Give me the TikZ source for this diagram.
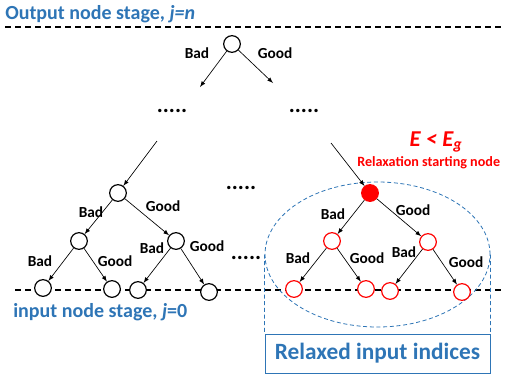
\documentclass[tikz,border=0pt]{standalone}
\usepackage{fontspec}
\setmainfont{Carlito}
\usetikzlibrary{shapes, arrows}
\definecolor{ppblue}{RGB}{46,117,182}
\tikzstyle{v}=[circle, draw=black, fill=white, line width=0.9pt,
    minimum size=12.5pt, inner sep=0pt]
\tikzstyle{vr}=[v, draw=red]
\tikzstyle{vf}=[v, draw=red, fill=red]
\tikzstyle{lbl}=[font=\fontsize{11.5}{11.5}\selectfont\bfseries, inner sep=0pt]
\tikzstyle{dots}=[font=\fontsize{17}{17}\selectfont\bfseries, inner sep=0pt]
\tikzstyle{e}=[->, >=latex, line width=0.5pt]
\tikzstyle{stage}=[dash pattern=on 4.5pt off 3pt, line width=0.9pt]
\tikzstyle{title}=[anchor=west, text=ppblue, inner sep=0pt,
    font=\fontsize{15}{15}\selectfont\bfseries]
\tikzstyle{callout}=[draw=ppblue, dash pattern=on 3pt off 2pt, line width=0.6pt]

\begin{document}
\begin{tikzpicture}[x=0.75pt, y=-0.75pt]
    \useasboundingbox (0,0) rectangle (506,375);
    % stage lines
    \node (out) [title] at (5,14) {Output node stage, \textit{j=n}};
    \node (in) [title] at (13,312) {input node stage, \textit{j}=0};
    \coordinate (oL) at (5,27);   \coordinate (oR) at (503,27);
    \coordinate (iL) at (15,290); \coordinate (iR) at (503,290);
    \draw [stage] (oL) -- (oR);
    \draw [stage] (iL) -- (iR);
    % top of the tree
    \node (top) [v] at (232,44) {};
    \coordinate (topL) at (200,87);
    \coordinate (topR) at (273,83);
    \draw [e] (top) -- (topL);
    \draw [e] (top) -- (topR);
    \node [lbl] at (197,53) {Bad};
    \node [lbl] at (275,53) {Good};
    \node (d1) [dots] at (172,111) {.....};
    \node (d2) [dots] at (304,111) {.....};
    % left subtree
    \coordinate (inL) at (157,141);
    \node (a) [v] at (118,193) {};
    \node (a1) [v] at (79,241) {};
    \node (a2) [v] at (176,241) {};
    \node (a11) [v] at (43,288) {};
    \node (a12) [v] at (112,289) {};
    \node (a21) [v] at (138,290) {};
    \node (a22) [v] at (209,292) {};
    \draw [e] (inL) -- (a);
    \draw [e] (a) -- (a1);
    \draw [e] (a) -- (a2);
    \draw [e] (a1) -- (a11);
    \draw [e] (a1) -- (a12);
    \draw [e] (a2) -- (a21);
    \draw [e] (a2) -- (a22);
    \node [lbl] at (91,212) {Bad};
    \node [lbl] at (163,206) {Good};
    \node [lbl] at (40,261) {Bad};
    \node [lbl] at (115,261) {Good};
    \node [lbl] at (152,248) {Bad};
    \node [lbl] at (207,246) {Good};
    \node (d3) [dots] at (241,188) {.....};
    \node (d4) [dots] at (246,258) {.....};
    % relaxed subtree
    \node (relax) [callout, ellipse, minimum width=168.75pt,
        minimum height=108.75pt, inner sep=0pt] at (377.5,254.5) {};
    \node (box) [draw=ppblue, line width=0.7pt, minimum width=168.75pt,
        minimum height=29.25pt, inner sep=0pt, text=ppblue,
        font=\fontsize{17.5}{17.5}\selectfont\bfseries] at (377.5,353.5)
        {Relaxed input indices};
    \draw [callout] (relax.west) -- (box.north west);
    \draw [callout] (relax.east) -- (box.north east);
    \coordinate (inR) at (331,143);
    \node (b) [vf] at (370,193) {};
    \node (b1) [vr] at (332,241) {};
    \node (b2) [vr] at (428,242) {};
    \node (b11) [vr] at (294,289) {};
    \node (b12) [vr] at (366,289) {};
    \node (b21) [vr] at (390,291) {};
    \node (b22) [vr] at (462,292) {};
    \draw [e] (inR) -- (b);
    \draw [e] (b) -- (b1);
    \draw [e] (b) -- (b2);
    \draw [e] (b1) -- (b11);
    \draw [e] (b1) -- (b12);
    \draw [e] (b2) -- (b21);
    \draw [e] (b2) -- (b22);
    \node [lbl] at (333,214) {Bad};
    \node [lbl] at (413,210) {Good};
    \node [lbl] at (298,258) {Bad};
    \node [lbl] at (367,258) {Good};
    \node [lbl] at (404,252) {Bad};
    \node [lbl] at (466,262) {Good};
    \node (cond) [text=red, inner sep=0pt,
        font=\fontsize{17}{17}\selectfont\bfseries\itshape] at (436,142)
        {E < E\textsubscript{g}};
    \node (start) [anchor=west, text=red, inner sep=0pt,
        font=\fontsize{10.6}{10.6}\selectfont\bfseries] at (357,163)
        {Relaxation starting node};
\end{tikzpicture}
\end{document}
